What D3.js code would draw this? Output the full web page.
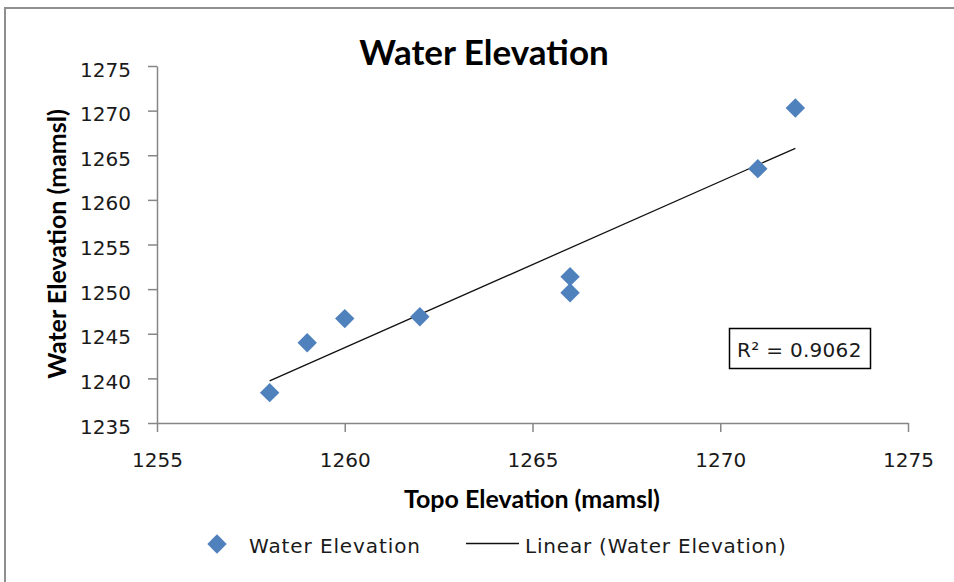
<!DOCTYPE html>
<html>
<head>
<meta charset="utf-8">
<script src="https://cdn.jsdelivr.net/npm/d3@7"></script>
<style>
  body { margin: 0; background: #fff; }
  text { font-family: "DejaVu Sans", sans-serif; fill: #1a1a1a; }
  .bold { font-family: Lato, "Open Sans", sans-serif; font-weight: bold; fill: #000; }
</style>
</head>
<body>
<div class="svg-container"></div>
<script>
// topo elevation vs water elevation (mamsl)
const topo = [1258, 1259, 1260, 1262, 1266, 1266, 1271, 1272]
const water = [1238.4, 1244.0, 1246.7, 1246.9, 1251.4, 1249.6, 1263.5, 1270.3]
const xTicks = [1255, 1260, 1265, 1270, 1275]
const yTicks = [1235, 1240, 1245, 1250, 1255, 1260, 1265, 1270, 1275]
const r2Label = 'R² = 0.9062'

const W = 954, H = 582
const plot = { left: 157, right: 908, top: 66, bottom: 423 }
const blue = '#4f81bd'

const svg = d3.select('.svg-container').append('svg')
  .attr('width', W)
  .attr('height', H)

// chart area frame (runs off the right / bottom edge)
svg.append('rect')
  .attr('x', 5).attr('y', 8)
  .attr('width', W + 20).attr('height', H + 20)
  .attr('fill', 'none')
  .attr('stroke', '#8f8f8f')
  .attr('stroke-width', 2)

const x = d3.scaleLinear().domain([1255, 1275]).range([plot.left, plot.right])
const y = d3.scaleLinear().domain([1235, 1275]).range([plot.bottom, plot.top])

const xAxis = svg.append('g')
  .attr('transform', `translate(0,${plot.bottom})`)
  .call(d3.axisBottom(x).tickValues(xTicks).tickFormat(d3.format('d')).tickSize(9).tickSizeOuter(0))
xAxis.selectAll('text')
  .attr('y', 44).attr('dy', null)
  .style('font-size', '20px')
  .style('font-family', '"DejaVu Sans", sans-serif')
  .attr('fill', '#1a1a1a')

const yAxis = svg.append('g')
  .attr('transform', `translate(${plot.left},0)`)
  .call(d3.axisLeft(y).tickValues(yTicks).tickFormat(d3.format('d')).tickSize(9).tickSizeOuter(0).tickPadding(17))
yAxis.selectAll('text')
  .attr('dy', '0.5em')
  .style('font-size', '20px')
  .style('font-family', '"DejaVu Sans", sans-serif')
  .attr('fill', '#1a1a1a')

svg.selectAll('.domain, .tick line')
  .attr('stroke', '#868686')
  .attr('stroke-width', 1.5)

// least squares trendline from the points
const mx = d3.mean(topo), my = d3.mean(water)
const slope = d3.sum(topo, (t, i) => (t - mx) * (water[i] - my)) / d3.sum(topo, t => (t - mx) ** 2)
const icpt = my - slope * mx
const tx = d3.extent(topo)

svg.append('line')
  .attr('x1', x(tx[0])).attr('y1', y(icpt + slope * tx[0]))
  .attr('x2', x(tx[1])).attr('y2', y(icpt + slope * tx[1]))
  .attr('stroke', '#111')
  .attr('stroke-width', 1.3)

const diamond = d3.symbol().type(d3.symbolDiamond2).size(240)

svg.selectAll('.pt')
  .data(topo.map((t, i) => [t, water[i]]))
  .enter()
  .append('path')
  .attr('class', 'pt')
  .attr('d', diamond)
  .attr('transform', d => `translate(${x(d[0])},${y(d[1])})`)
  .attr('fill', blue)

// r squared box
svg.append('rect')
  .attr('x', 729.5).attr('y', 328.5)
  .attr('width', 141).attr('height', 40)
  .attr('fill', '#fff')
  .attr('stroke', '#000')
  .attr('stroke-width', 1.5)
svg.append('text')
  .attr('x', 737).attr('y', 357)
  .style('font-size', '20px')
  .style('letter-spacing', '0.3px')
  .text(r2Label)

// titles
svg.append('text')
  .attr('class', 'bold')
  .attr('x', 484).attr('y', 65)
  .attr('text-anchor', 'middle')
  .style('font-size', '35px')
  .text('Water Elevation')

svg.append('text')
  .attr('class', 'bold')
  .attr('x', 532).attr('y', 508)
  .attr('text-anchor', 'middle')
  .style('font-size', '25px')
  .text('Topo Elevation  (mamsl)')

svg.append('text')
  .attr('class', 'bold')
  .attr('transform', 'translate(66,244) rotate(-90)')
  .attr('text-anchor', 'middle')
  .style('font-size', '25px')
  .text('Water Elevation  (mamsl)')

// legend
const legend = svg.append('g')
legend.append('path')
  .attr('d', diamond)
  .attr('transform', 'translate(217,544)')
  .attr('fill', blue)
legend.append('text')
  .attr('x', 249).attr('y', 553)
  .style('font-size', '20px')
  .style('letter-spacing', '0.9px')
  .text('Water Elevation')
legend.append('line')
  .attr('x1', 466).attr('x2', 519)
  .attr('y1', 543.5).attr('y2', 543.5)
  .attr('stroke', '#111')
  .attr('stroke-width', 1.3)
legend.append('text')
  .attr('x', 525).attr('y', 553)
  .style('font-size', '20px')
  .style('letter-spacing', '0.8px')
  .text('Linear (Water Elevation)')
</script>
</body>
</html>
